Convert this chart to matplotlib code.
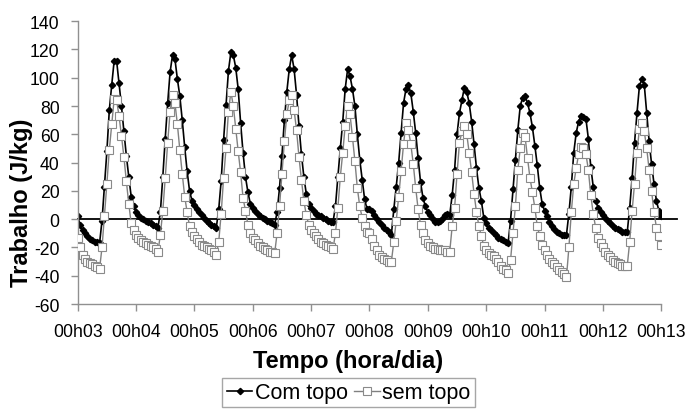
import matplotlib
matplotlib.use("Agg")
import matplotlib.pyplot as plt
import numpy as np

plt.rcParams['font.family'] = ['Liberation Sans', 'DejaVu Sans']
plt.rcParams['axes.unicode_minus'] = False

# hourly values, one list per day (00h03 .. 00h12), last day closes at 00h13
com_03 = [2, -4, -8, -10, -12, -14, -15, -16, -16, -17, -1, 23, 48, 77, 95, 112, 112, 96, 80, 62, 45, 30, 16, 9]
com_04 = [5, 3, 1, 0, -1, -2, -3, -4, -5, -6, 5, 30, 57, 82, 104, 116, 113, 99, 87, 70, 51, 34, 20, 13]
com_05 = [10, 7, 5, 3, 1, -1, -3, -4, -5, -6, 7, 27, 56, 81, 105, 118, 116, 107, 92, 68, 47, 30, 19, 11]
com_06 = [8, 6, 4, 2, 1, 0, -1, -2, -3, -4, 5, 22, 45, 70, 90, 106, 116, 106, 88, 66, 46, 30, 18, 11]
com_07 = [8, 6, 4, 3, 2, 1, 0, -1, -2, -2, 9, 30, 50, 69, 92, 106, 101, 92, 80, 60, 42, 28, 14, 7]
com_08 = [7, 6, 3, 0, -2, -4, -6, -8, -9, -11, 7, 23, 40, 61, 82, 92, 95, 89, 76, 61, 43, 26, 15, 9]
com_09 = [5, 3, 0, -2, -2, -1, 0, 3, 4, 3, 17, 35, 60, 75, 84, 93, 90, 82, 69, 53, 36, 22, 13, 1]
com_10 = [-3, -6, -8, -10, -11, -13, -14, -15, -16, -17, -1, 21, 42, 63, 80, 86, 87, 82, 75, 65, 52, 38, 22, 11]
com_11 = [6, 2, -2, -5, -7, -9, -10, -11, -11, -11, 4, 23, 47, 61, 69, 73, 72, 71, 57, 37, 23, 13, 8, 5]
com_12 = [3, 1, -1, -3, -5, -6, -7, -8, -9, -9, -9, 8, 29, 54, 75, 94, 99, 95, 75, 55, 39, 25, 13, 6, 2]

sem_03 = [-13, -20, -25, -28, -30, -31, -32, -33, -34, -35, -20, 2, 25, 49, 67, 85, 84, 73, 59, 44, 27, 11, -3, -8]
sem_04 = [-11, -13, -15, -16, -17, -18, -19, -20, -21, -23, -11, 6, 29, 54, 76, 88, 82, 67, 49, 32, 16, 5, -5, -9]
sem_05 = [-12, -14, -16, -18, -19, -20, -21, -22, -23, -25, -16, 4, 29, 50, 76, 90, 80, 64, 48, 33, 15, 6, -4, -10]
sem_06 = [-13, -15, -17, -19, -20, -21, -22, -23, -23, -24, -10, 9, 32, 55, 74, 84, 88, 77, 63, 44, 28, 13, 3, -4]
sem_07 = [-8, -10, -12, -14, -16, -17, -18, -19, -20, -21, -10, 8, 30, 47, 66, 80, 74, 58, 41, 22, 9, 1, -5, -9]
sem_08 = [-10, -14, -19, -22, -25, -27, -28, -29, -30, -30, -16, -1, 16, 34, 53, 68, 63, 53, 39, 22, 7, -4, -10, -15]
sem_09 = [-17, -19, -20, -21, -21, -22, -22, -22, -23, -23, -5, 8, 32, 54, 62, 66, 60, 47, 33, 18, 5, -5, -12, -19]
sem_10 = [-22, -24, -25, -26, -28, -30, -33, -35, -36, -38, -29, -10, 9, 35, 50, 61, 58, 43, 29, 19, 8, -5, -12, -18]
sem_11 = [-22, -25, -28, -30, -32, -34, -36, -37, -39, -41, -20, 5, 25, 36, 46, 51, 50, 46, 35, 17, 4, -6, -13, -17]
sem_12 = [-20, -23, -25, -27, -29, -30, -31, -32, -33, -33, -33, -16, 6, 25, 47, 64, 68, 62, 50, 35, 20, 5, -6, -12, -18]

day_labels = ["00h03", "00h04", "00h05", "00h06", "00h07", "00h08",
              "00h09", "00h10", "00h11", "00h12", "00h13"]

com = np.concatenate([com_03, com_04, com_05, com_06, com_07, com_08, com_09, com_10, com_11, com_12])
sem = np.concatenate([sem_03, sem_04, sem_05, sem_06, sem_07, sem_08, sem_09, sem_10, sem_11, sem_12])
t = 3 + np.arange(len(com)) / 24.0

fig = plt.figure(figsize=(6.9, 4.1), dpi=100)
ax = fig.add_axes([0.1126, 0.256, 0.8458, 0.690])

ax.axhline(0, xmin=0, xmax=1.027, color="black", linewidth=1.3, clip_on=False, zorder=1)

ax.plot(t, com, color="black", linewidth=1.2, marker="D", markersize=3.2,
        markerfacecolor="black", markeredgecolor="black", label="Com topo", zorder=2)
ax.plot(t, sem, color="#808080", linewidth=1.0, marker="s", markersize=5.2,
        markerfacecolor="white", markeredgecolor="#8a8a8a", markeredgewidth=0.8,
        label="sem topo", zorder=3)

ax.set_xlim(3, 13)
ax.set_ylim(-60, 140)
ax.set_yticks(np.arange(-60, 141, 20))
ax.set_xticks(np.arange(3, 14))
ax.set_xticklabels(day_labels)

for s in ["top", "right"]:
    ax.spines[s].set_visible(False)
for s in ["left", "bottom"]:
    ax.spines[s].set_color("#909090")
    ax.spines[s].set_linewidth(1.0)

ax.tick_params(axis="both", direction="out", length=5, width=1.0, color="#909090",
               labelsize=12.7, labelcolor="black")
ax.tick_params(axis="x", pad=9)
ax.tick_params(axis="y", pad=8)

ax.set_xlabel("Tempo (hora/dia)", fontsize=17, fontweight="bold")
ax.set_ylabel("Trabalho (J/kg)", fontsize=17, fontweight="bold")
ax.xaxis.set_label_coords(0.463, -0.158)
ax.yaxis.set_label_coords(-0.076, 0.36)

leg = fig.legend(loc="lower center", bbox_to_anchor=(0.505, 0.004), ncol=2,
                 fontsize=15.5, frameon=True, fancybox=False, edgecolor="#909090",
                 handlelength=1.2, handletextpad=0.1, columnspacing=0.3,
                 borderpad=0.2, borderaxespad=0)
leg.get_frame().set_linewidth(1.0)

fig.savefig("out.png", dpi=100)
